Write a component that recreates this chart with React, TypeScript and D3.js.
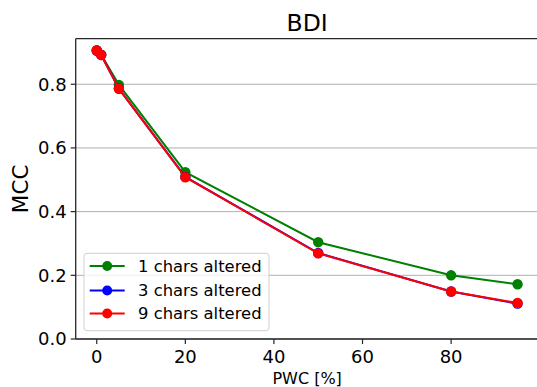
import React from "react";
import * as d3 from "d3";

const pwc = [0, 1, 5, 20, 50, 80, 95];
const seriesNames = ["1 chars altered", "3 chars altered", "9 chars altered"];
const seriesColors = ["green", "blue", "red"];
const mcc1 = [0.906, 0.893, 0.798, 0.524, 0.304, 0.2, 0.172];
const mcc3 = [0.906, 0.892, 0.786, 0.509, 0.27, 0.149, 0.111];
const mcc9 = [0.906, 0.892, 0.786, 0.508, 0.269, 0.149, 0.113];
const xTicks = [0, 20, 40, 60, 80];
const yTicks = [0.0, 0.2, 0.4, 0.6, 0.8];

const W = 537;
const H = 387;
const FONT = "DejaVu Sans, sans-serif";

export default function App() {
  const left = 75.7;
  const right = 538.6;
  const top = 38.7;
  const bottom = 339;
  const x = d3.scaleLinear().domain([-4.75, 99.75]).range([left, right]);
  const y = d3.scaleLinear().domain([0, 0.943]).range([bottom, top]);
  const series = [mcc1, mcc3, mcc9];
  const line = d3
    .line<number>()
    .x((_, i) => x(pwc[i]))
    .y((d) => y(d));

  const legX = 84;
  const legY = 253.3;
  const legW = 185;
  const legH = 77.4;
  const rowY = [266, 290.5, 313.5];

  return (
    <svg
      width={W}
      height={H}
      style={{ position: "absolute", left: 0, top: 0, background: "white" }}
      fontFamily={FONT}
    >
      <defs>
        <clipPath id="plotclip">
          <rect x={left} y={top} width={right - left} height={bottom - top} />
        </clipPath>
      </defs>
      <rect x={0} y={0} width={W} height={H} fill="white" />
      {/* grid */}
      {yTicks.map((t) => (
        <line
          key={"g" + t}
          x1={left}
          x2={right}
          y1={y(t)}
          y2={y(t)}
          stroke="#b0b0b0"
          strokeWidth={1}
        />
      ))}
      {/* series */}
      <g clipPath="url(#plotclip)">
        {series.map((s, si) => (
          <g key={si}>
            <path d={line(s) || ""} fill="none" stroke={seriesColors[si]} strokeWidth={2} />
            {s.map((v, i) => (
              <circle key={i} cx={x(pwc[i])} cy={y(v)} r={5.2} fill={seriesColors[si]} />
            ))}
          </g>
        ))}
      </g>
      {/* spines */}
      <line x1={left} x2={left} y1={top} y2={bottom} stroke="#262626" strokeWidth={1.3} />
      <line x1={left} x2={right} y1={top} y2={top} stroke="#262626" strokeWidth={1.3} />
      <line x1={left} x2={right} y1={bottom} y2={bottom} stroke="#262626" strokeWidth={1.3} />
      {/* y ticks */}
      {yTicks.map((t) => (
        <g key={"y" + t}>
          <line x1={left - 5} x2={left} y1={y(t)} y2={y(t)} stroke="#262626" strokeWidth={1.2} />
          <text
            x={left - 9}
            y={y(t)}
            dy="0.36em"
            textAnchor="end"
            fontSize={18}
            fill="#000"
          >
            {t.toFixed(1)}
          </text>
        </g>
      ))}
      {/* x ticks */}
      {xTicks.map((t) => (
        <g key={"x" + t}>
          <line x1={x(t)} x2={x(t)} y1={bottom} y2={bottom + 5} stroke="#262626" strokeWidth={1.2} />
          <text x={x(t)} y={bottom + 24} textAnchor="middle" fontSize={18} fill="#000">
            {t}
          </text>
        </g>
      ))}
      {/* title */}
      <text x={(left + right) / 2} y={31} textAnchor="middle" fontSize={23.5} fill="#000">
        BDI
      </text>
      {/* axis labels */}
      <text
        transform={`translate(28.3, ${(top + bottom) / 2}) rotate(-90)`}
        textAnchor="middle"
        fontSize={21.5}
        fill="#000"
      >
        MCC
      </text>
      <text x={(left + right) / 2} y={384} textAnchor="middle" fontSize={16} fill="#000">
        PWC [%]
      </text>
      {/* legend */}
      <rect
        x={legX}
        y={legY}
        width={legW}
        height={legH}
        rx={3}
        fill="white"
        fillOpacity={0.8}
        stroke="#d0d0d0"
        strokeWidth={1}
      />
      {seriesNames.map((n, i) => (
        <g key={n}>
          <line x1={89.7} x2={124.7} y1={rowY[i]} y2={rowY[i]} stroke={seriesColors[i]} strokeWidth={2} />
          <circle cx={107.2} cy={rowY[i]} r={5} fill={seriesColors[i]} />
          <text x={138} y={rowY[i]} dy="0.36em" fontSize={16.4} fill="#000">
            {n}
          </text>
        </g>
      ))}
    </svg>
  );
}
